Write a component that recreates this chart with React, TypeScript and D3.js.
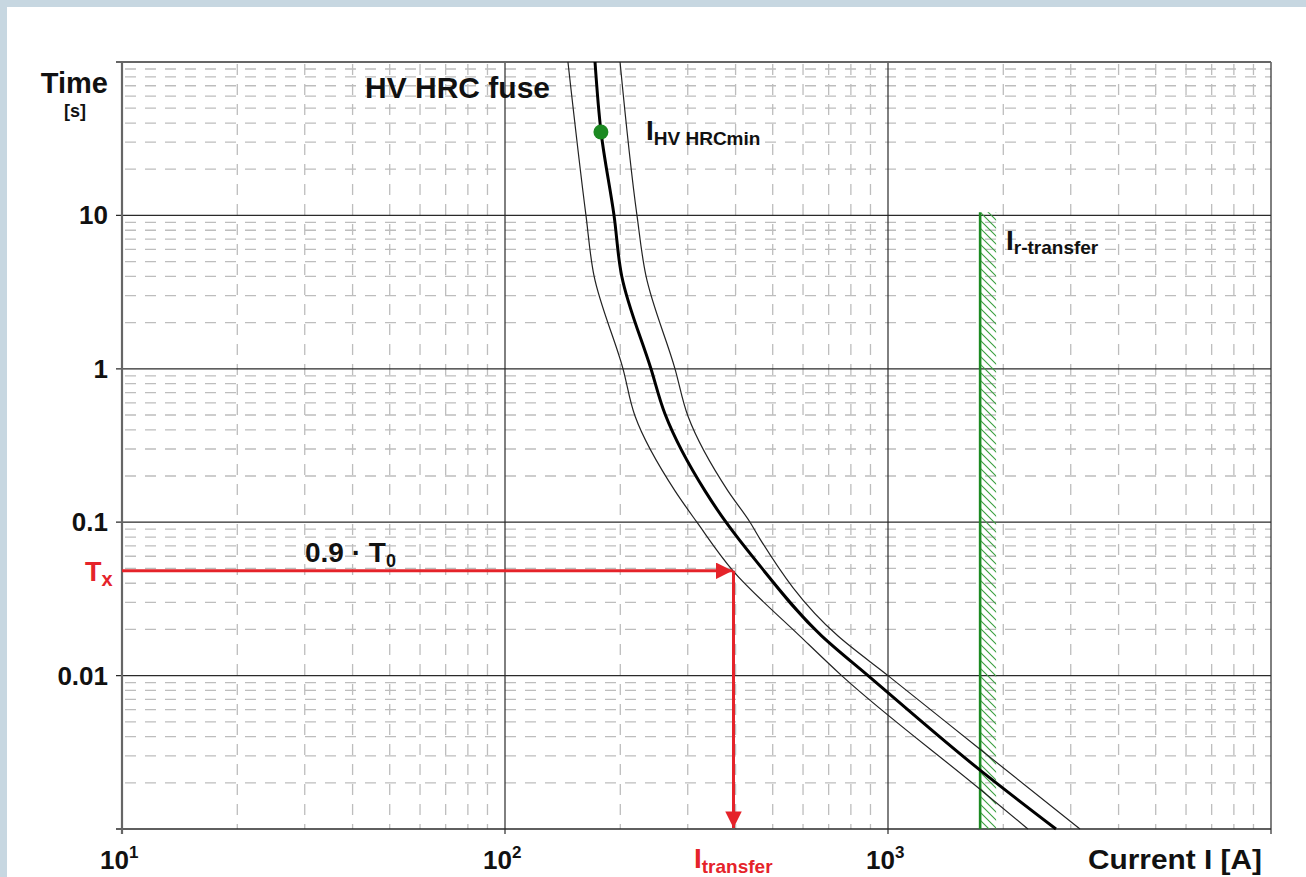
import React from "react";
import * as d3 from "d3";

// ---- data ----
const mainI = [171.8, 178.1, 192.6, 201.7, 240.5, 261.7, 332.8, 377.6, 455, 672, 887, 1739, 2745];
const mainT = [100, 35.1, 10, 4.03, 1, 0.507, 0.16, 0.1, 0.0549, 0.0181, 0.01, 0.00242, 0.001];

const lowerI = [146, 162.7, 170.8, 203.3, 218.5, 277.9, 317, 393.9, 589, 756.8, 1739, 2320];
const lowerT = [100, 10, 4.03, 1, 0.492, 0.16, 0.1, 0.0482, 0.0181, 0.01, 0.001815, 0.001];

const upperI = [199.7, 221.1, 233.4, 277.9, 300.5, 382, 436.3, 463.4, 740.6, 1000, 1739, 3171];
const upperT = [100, 10, 4.03, 1, 0.49, 0.16, 0.1, 0.0776, 0.0181, 0.01, 0.00331, 0.001];

const minPointI = 178;
const minPointT = 35;

const rTransferI = 1740;
const rTransferTop = 10.5;

const transferI = 395;
const txT = 0.0482;

const yTickValues = [10, 1, 0.1, 0.01];
const yTickLabels = ["10", "1", "0.1", "0.01"];
const xTickValues = [10, 100, 1000];
const xTickExp = ["1", "2", "3"];

const FONT = "'Liberation Sans', Arial, Helvetica, sans-serif";
const RED = "#e5232a";
const GREEN = "#1c8a22";

export default function App() {
  const W = 1306, H = 877;
  const x = d3.scaleLog().domain([10, 10000]).range([122, 1271]);
  const y = d3.scaleLog().domain([0.001, 100]).range([829, 62]);
  const x0 = x(10), x1 = x(10000), yTop = y(100), yBot = y(0.001);

  const minorX: number[] = [];
  [10, 100, 1000].forEach((d) => { for (let k = 2; k <= 9; k++) minorX.push(d * k); });
  const minorY: number[] = [];
  [0.001, 0.01, 0.1, 1, 10].forEach((d) => { for (let k = 2; k <= 9; k++) minorY.push(d * k); });

  const line = d3.line<[number, number]>()
    .x((d) => x(d[0]))
    .y((d) => y(d[1]))
    .curve(d3.curveMonotoneY);

  const mk = (I: number[], T: number[]) => I.map((v, i) => [v, T[i]] as [number, number]);

  const gx = x(rTransferI);
  const gTop = y(rTransferTop);
  const txY = y(txT);
  const trX = x(transferI);

  return (
    <svg width={W} height={H} style={{ position: "absolute", left: 0, top: 0 }} fontFamily={FONT}>
      <defs>
        <pattern id="hatch" patternUnits="userSpaceOnUse" width={8} height={8}>
          <path d="M-2,-2 L10,10 M-2,6 L2,10 M6,-2 L10,2" stroke="#3aa040" strokeWidth={1.1} />
        </pattern>
        <marker id="arr" viewBox="0 0 10 10" refX={10} refY={5} markerWidth={8} markerHeight={5.5}
          markerUnits="strokeWidth" orient="auto">
          <path d="M0,0 L10,5 L0,10 Z" fill={RED} />
        </marker>
      </defs>
      <rect x={0} y={0} width={W} height={H} fill="#c7d7e1" />
      <rect x={7} y={7} width={W - 7} height={H - 7} fill="#ffffff" />

      {/* minor grid */}
      <g stroke="#bdbdbd" strokeWidth={1.3} strokeDasharray="11,9" fill="none">
        {minorY.map((v) => (
          <line key={"my" + v} x1={x0 + 3} x2={x1} y1={y(v)} y2={y(v)} />
        ))}
        {minorX.map((v) => (
          <line key={"mx" + v} x1={x(v)} x2={x(v)} y1={yTop + 2} y2={yBot} />
        ))}
      </g>

      {/* major grid */}
      <g stroke="#2a2a2a" strokeWidth={1.2}>
        {yTickValues.map((v) => (
          <line key={"Y" + v} x1={x0 - 6} x2={x1} y1={y(v)} y2={y(v)} />
        ))}
        {[100, 1000].map((v) => (
          <line key={"X" + v} x1={x(v)} x2={x(v)} y1={yTop} y2={yBot + 5} />
        ))}
        <line x1={x1} x2={x1} y1={yTop} y2={yBot + 5} />
        <line x1={x0 - 6} x2={x1} y1={yBot} y2={yBot} strokeWidth={1.5} />
      </g>
      <line x1={x0 - 6} x2={x1} y1={yTop} y2={yTop} stroke="#666" strokeWidth={2} />
      <line x1={x0} x2={x0} y1={yTop} y2={yBot + 5} stroke="#666" strokeWidth={2.2} />

      {/* green transfer limit */}
      <rect x={gx + 1} y={gTop} width={15} height={yBot - gTop} fill="url(#hatch)" />
      <line x1={gx} x2={gx} y1={gTop} y2={yBot} stroke={GREEN} strokeWidth={2.6} />

      {/* fuse curves */}
      <path d={line(mk(lowerI, lowerT)) || ""} fill="none" stroke="#222" strokeWidth={1.2} />
      <path d={line(mk(upperI, upperT)) || ""} fill="none" stroke="#222" strokeWidth={1.2} />
      <path d={line(mk(mainI, mainT)) || ""} fill="none" stroke="#000" strokeWidth={3} />
      <circle cx={x(minPointI)} cy={y(minPointT)} r={7.5} fill={GREEN} />

      {/* red arrows */}
      <line x1={x0} x2={trX - 1} y1={txY} y2={txY} stroke={RED} strokeWidth={3} markerEnd="url(#arr)" />
      <line x1={trX} x2={trX} y1={txY} y2={yBot - 1} stroke={RED} strokeWidth={3} markerEnd="url(#arr)" />

      {/* y tick labels */}
      <g fontWeight="bold" fontSize={26} textAnchor="end" fill="#111">
        {yTickValues.map((v, i) => (
          <text key={"yl" + v} x={108} y={y(v) + 9}>{yTickLabels[i]}</text>
        ))}
      </g>
      <text x={108} y={93} fontWeight="bold" fontSize={29} textAnchor="end" fill="#111">Time</text>
      <text x={75} y={117} fontWeight="bold" fontSize={18} textAnchor="middle" fill="#111">[s]</text>

      {/* x tick labels */}
      <g fontWeight="bold" fill="#111">
        {xTickValues.map((v, i) => (
          <text key={"xl" + v} x={x(v) - 22} y={869} fontSize={26}>
            10<tspan fontSize={17} dy={-11}>{xTickExp[i]}</tspan>
          </text>
        ))}
      </g>
      <text x={1088} y={869} fontWeight="bold" fontSize={27} fill="#111"
        textLength={174} lengthAdjust="spacingAndGlyphs">Current I [A]</text>

      {/* annotations */}
      <text x={365} y={98} fontWeight="bold" fontSize={30} fill="#111">HV HRC fuse</text>
      <text x={646} y={140} fontWeight="bold" fontSize={28} fill="#111">
        I<tspan fontSize={19} dy={5}>HV HRCmin</tspan>
      </text>
      <text x={1006} y={250} fontWeight="bold" fontSize={28} fill="#111">
        I<tspan fontSize={19} dy={4}>r-transfer</tspan>
      </text>
      <text x={305} y={562} fontWeight="bold" fontSize={28} fill="#111">
        0.9 · T<tspan fontSize={18} dy={5}>0</tspan>
      </text>
      <text x={85} y={581} fontWeight="bold" fontSize={27} fill={RED}>
        T<tspan fontSize={20} dy={5}>x</tspan>
      </text>
      <text x={694} y={868} fontWeight="bold" fontSize={28} fill={RED}>
        I<tspan fontSize={19} dy={5}>transfer</tspan>
      </text>
    </svg>
  );
}
